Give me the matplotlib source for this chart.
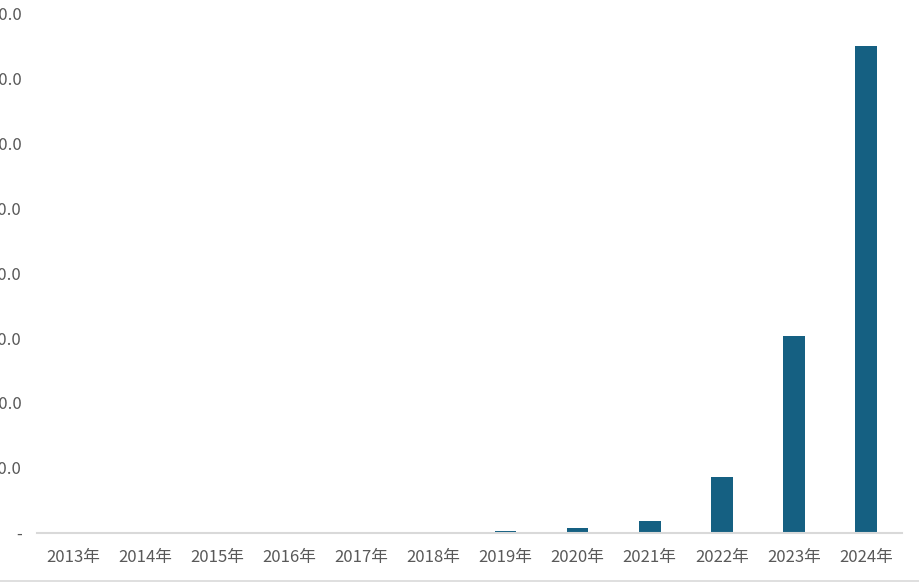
import matplotlib.pyplot as plt
from matplotlib.lines import Line2D

plt.rcParams['font.family'] = ['Noto Sans CJK SC', 'DejaVu Sans']

years = ['2013年', '2014年', '2015年', '2016年', '2017年', '2018年',
         '2019年', '2020年', '2021年', '2022年', '2023年', '2024年']
values = [0.0, 0.0, 0.0, 0.0, 0.0, 0.0, 0.25, 0.7, 1.8, 8.6, 30.3, 75.1]
yticks = [0, 10, 20, 30, 40, 50, 60, 70, 80]
ytick_labels = ['-', '10.0', '20.0', '30.0', '40.0', '50.0', '60.0', '70.0', '80.0']

W, H = 919, 582
fig = plt.figure(figsize=(W / 100, H / 100), dpi=100)
ax = fig.add_axes([37 / W, (H - 532.5) / H, 865 / W, (532.5 - 14) / H])

x = range(len(years))
ax.bar(x, values, width=0.3, color='#156082', zorder=2)

ax.set_xlim(-0.5, len(years) - 0.5)
ax.set_ylim(0, 80)
ax.set_xticks(list(x))
ax.set_xticklabels(years, fontsize=12, color='#595959')
ax.set_yticks(yticks)
ax.set_yticklabels(ytick_labels, fontsize=12, color='#595959')
ax.tick_params(axis='both', length=0)
ax.tick_params(axis='x', pad=12)
ax.tick_params(axis='y', pad=11)

for s in ['top', 'right', 'left']:
    ax.spines[s].set_visible(False)
ax.spines['bottom'].set_color('#D9D9D9')
ax.spines['bottom'].set_linewidth(1.5)

# chart area border at the bottom
fig.add_artist(Line2D([0, 1], [1.5 / H, 1.5 / H], color='#D9D9D9', linewidth=1.2,
                      transform=fig.transFigure))

fig.savefig('out.png', dpi=100)
